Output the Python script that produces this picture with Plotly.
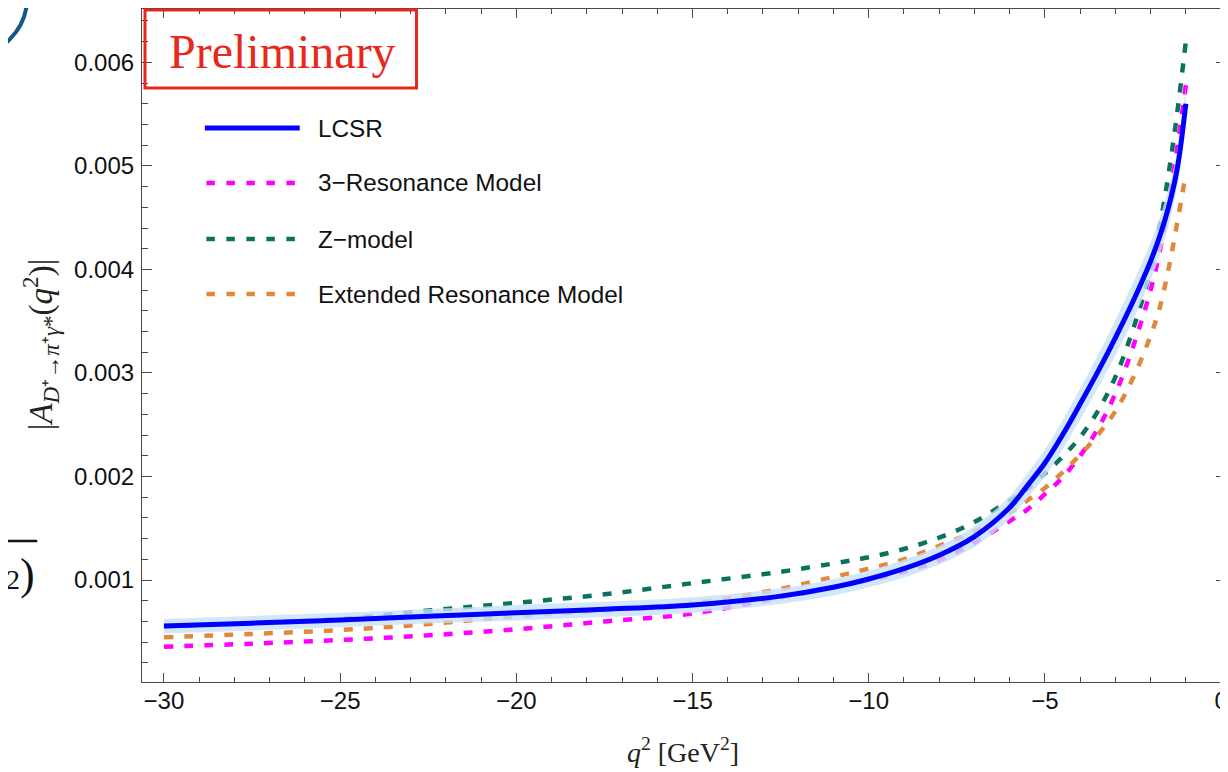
import plotly.graph_objects as go

# ---------------- data ----------------
q2 = [-30, -27.5, -25, -22.5, -20, -17.5, -15, -12.5, -11, -10, -9, -8, -7, -6,
      -5.5, -5, -4.5, -4, -3.5, -3, -2.5, -2, -1.75, -1.5, -1.25, -1]

lcsr = [0.000556, 0.000584, 0.000614, 0.000650, 0.000684, 0.000718, 0.000760,
        0.000845, 0.000930, 0.00101, 0.00111, 0.00124, 0.00142, 0.00170,
        0.00191, 0.00213, 0.00240, 0.00270, 0.00301, 0.00334, 0.00369, 0.00408,
        0.00431, 0.00459, 0.00496, 0.00560]

lcsr_err = [0.00007, 0.00007, 0.00007, 0.00007, 0.000075, 0.000075, 0.000075,
            0.000075, 0.00008, 0.00008, 0.000085, 0.00009, 0.0001, 0.00011,
            0.00012, 0.00013, 0.00014, 0.00015, 0.00016, 0.00017, 0.00018, 0.00018,
            0.00018, 0.00018, 0.00017, 0.00016]

res3 = [0.000356, 0.000386, 0.000421, 0.000466, 0.000525, 0.000600, 0.000677,
        0.000830, 0.000930, 0.00100, 0.00108, 0.00119, 0.00136, 0.00157,
        0.00168, 0.00183, 0.00199, 0.00220, 0.00246, 0.00280, 0.00325, 0.00380,
        0.00416, 0.00462, 0.00516, 0.00578]

zmodel = [0.000549, 0.000585, 0.000624, 0.000705, 0.000780, 0.000862, 0.000970,
          0.00108, 0.00116, 0.00122, 0.00130, 0.00141, 0.00156, 0.00177,
          0.00188, 0.00203, 0.00219, 0.00238, 0.00263, 0.00296, 0.00342, 0.00399,
          0.00440, 0.00490, 0.00550, 0.00620]

extres = [0.000447, 0.000480, 0.000517, 0.000575, 0.000650, 0.000705, 0.000775,
          0.000915, 0.00103, 0.00111, 0.00120, 0.00133, 0.00147, 0.00165,
          0.00177, 0.00189, 0.00204, 0.00221, 0.00240, 0.00263, 0.00295, 0.00336,
          0.00362, 0.00399, 0.00444, 0.00492]

series_names = ["LCSR", "3\u2212Resonance Model", "Z\u2212model", "Extended Resonance Model"]

x_ticks = [-30, -25, -20, -15, -10, -5, 0]
y_ticks = [0.001, 0.002, 0.003, 0.004, 0.005, 0.006]

# ---------------- layout geometry / styles ----------------
# the page body has an 8px margin, so the figure is shifted by (8, 8)
W, H = 1220, 764
ML, MR, MT, MB = 134, 0, 1, 90
PW, PH = W - ML - MR, H - MT - MB
OFF = 8

BLUE = "#0000ff"
MAGENTA = "#ff00ff"
GREEN = "#0b735d"
ORANGE = "#e0893d"
BAND = "rgba(200,225,250,0.8)"
FRAME = "#4a4a4a"
DASH = "9px,11px"
SANS = "Liberation Sans, Arial, Helvetica, sans-serif"
SERIF = "Liberation Serif, Times New Roman, serif"


def px(x):
    """window pixel x -> paper x"""
    return (x - OFF - ML) / PW


def py(y):
    """window pixel y -> paper y"""
    return (H - MB - (y - OFF)) / PH


fig = go.Figure()

fig.add_trace(go.Scatter(x=q2, y=res3, mode="lines", name=series_names[1],
                         line=dict(color=MAGENTA, width=4.5, dash=DASH, shape="spline")))
fig.add_trace(go.Scatter(x=q2, y=zmodel, mode="lines", name=series_names[2],
                         line=dict(color=GREEN, width=4.5, dash=DASH, shape="spline")))
fig.add_trace(go.Scatter(x=q2, y=extres, mode="lines", name=series_names[3],
                         line=dict(color=ORANGE, width=4.5, dash=DASH, shape="spline")))

upper = [v + e for v, e in zip(lcsr, lcsr_err)]
lower = [v - e for v, e in zip(lcsr, lcsr_err)]
fig.add_trace(go.Scatter(x=q2, y=upper, mode="lines", line=dict(width=0, shape="spline"),
                         showlegend=False, hoverinfo="skip"))
fig.add_trace(go.Scatter(x=q2, y=lower, mode="lines", line=dict(width=0, shape="spline"),
                         fill="tonexty", fillcolor=BAND, showlegend=False, hoverinfo="skip"))
fig.add_trace(go.Scatter(x=q2, y=lcsr, mode="lines", name=series_names[0],
                         line=dict(color=BLUE, width=5, shape="spline")))

axis_common = dict(
    showline=True, linecolor=FRAME, linewidth=1.2, mirror="allticks",
    ticks="inside", tickcolor=FRAME, tickwidth=1,
    showgrid=False, zeroline=False, ticklabeloverflow="allow",
    tickfont=dict(family=SANS, size=24, color="#111111"),
)

fig.update_xaxes(range=[-30.623, 0.14], tickvals=x_ticks, ticklen=9,
                 minor=dict(ticks="inside", ticklen=5, dtick=1, tick0=0,
                            tickcolor=FRAME, tickwidth=1, showgrid=False),
                 ticklabelstandoff=-3,
                 **axis_common)
fig.update_yaxes(range=[0.0000155, 0.006515], tickvals=y_ticks, tickformat=".3f",
                 ticklen=10,
                 minor=dict(ticks="inside", ticklen=6, dtick=0.0002, tick0=0,
                            tickcolor=FRAME, tickwidth=1, showgrid=False),
                 ticklabelstandoff=2,
                 **axis_common)

shapes = []
annotations = []

# custom legend
leg_y = [128, 183, 239, 294]
leg_colors = [BLUE, MAGENTA, GREEN, ORANGE]
for i, (yy, col) in enumerate(zip(leg_y, leg_colors)):
    if i == 0:
        shapes.append(dict(type="line", xref="paper", yref="paper",
                           x0=px(205), x1=px(300), y0=py(yy), y1=py(yy),
                           line=dict(color=col, width=5)))
    else:
        shapes.append(dict(type="line", xref="paper", yref="paper",
                           x0=px(206.5), x1=px(297), y0=py(yy), y1=py(yy),
                           line=dict(color=col, width=4.5, dash="8.5px,11.5px")))
    annotations.append(dict(xref="paper", yref="paper", x=px(316), y=py(yy),
                            xanchor="left", yanchor="middle", showarrow=False,
                            text=series_names[i],
                            font=dict(family=SANS, size=24.3, color="#111111")))

# "Preliminary" box
shapes.append(dict(type="rect", xref="paper", yref="paper",
                   x0=px(145), x1=px(417), y0=py(10), y1=py(88),
                   line=dict(color="#e8281c", width=3), fillcolor="rgba(0,0,0,0)",
                   layer="above"))
annotations.append(dict(xref="paper", yref="paper", x=px(283), y=py(51),
                        xanchor="center", yanchor="middle", showarrow=False,
                        text="Preliminary",
                        font=dict(family=SERIF, size=48, color="#e8281c")))

# axis titles
annotations.append(dict(xref="paper", yref="paper", x=px(684), y=py(750),
                        xanchor="center", yanchor="middle", showarrow=False,
                        text="<i>q</i><sup>2</sup> [GeV<sup>2</sup>]",
                        font=dict(family=SERIF, size=28, color="#222222")))
annotations.append(dict(xref="paper", yref="paper", x=px(40), y=py(345),
                        xanchor="center", yanchor="middle", showarrow=False,
                        textangle=-90,
                        text="|<i>A</i><sub><i>D</i>\u207a\u2192<i>\u03c0</i>\u207a<i>\u03b3</i>*</sub>(<i>q</i><sup>2</sup>)|",
                        font=dict(family=SERIF, size=33, color="#222222")))

# slide fragments at the left edge
shapes.append(dict(type="circle", xref="paper", yref="paper",
                   x0=px(-93), x1=px(27), y0=py(57), y1=py(-63),
                   line=dict(color="#14588a", width=4)))
shapes.append(dict(type="line", xref="paper", yref="paper",
                   x0=px(-10), x1=px(37), y0=py(541), y1=py(541),
                   line=dict(color="#111111", width=2.5)))
annotations.append(dict(xref="paper", yref="paper", x=px(37), y=py(574),
                        xanchor="right", yanchor="middle", showarrow=False,
                        text="<span style='font-size:28px'>2</span>)",
                        font=dict(family=SERIF, size=44, color="#111111")))

fig.update_layout(
    width=W, height=H,
    margin=dict(l=ML, r=MR, t=MT, b=MB, pad=0),
    paper_bgcolor="white", plot_bgcolor="white",
    showlegend=False,
    shapes=shapes, annotations=annotations,
)

fig.write_html("out.html")
